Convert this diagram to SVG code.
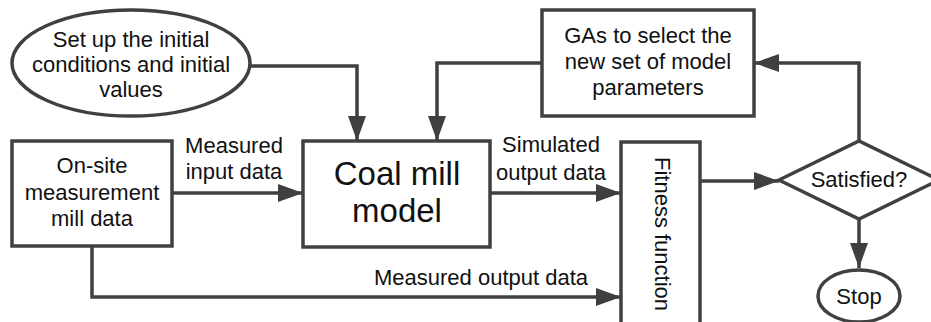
<svg xmlns="http://www.w3.org/2000/svg" width="931" height="322" viewBox="0 0 931 322">
<defs>
<style>
.s{fill:#fff;stroke:#404040;stroke-width:3.5}
.c{fill:none;stroke:#404040;stroke-width:3.5}
text{font-family:"Liberation Sans",Arial,sans-serif;font-size:22px;fill:#111;text-anchor:middle}
.big{font-size:33px}
</style>
<marker id="ah" viewBox="0 0 25 18" refX="25" refY="9" markerWidth="25" markerHeight="18" markerUnits="userSpaceOnUse" orient="auto">
<path d="M0,0 L25,9 L0,18 Z" fill="#404040"/>
</marker>
</defs>
<g id="connectors">
<path class="c" d="M251,66 H357 V141" marker-end="url(#ah)"/>
<path class="c" d="M542,63 H437 V141" marker-end="url(#ah)"/>
<path class="c" d="M172,193 H303" marker-end="url(#ah)"/>
<path class="c" d="M490,193 H621" marker-end="url(#ah)"/>
<path class="c" d="M92,246 V297 H621" marker-end="url(#ah)"/>
<path class="c" d="M700,181 H779" marker-end="url(#ah)"/>
<path class="c" d="M859,141 V63 H754" marker-end="url(#ah)"/>
<path class="c" d="M859,219 V268" marker-end="url(#ah)"/>
<text x="234" y="153">Measured</text>
<text x="234" y="179">input data</text>
<text x="551" y="152">Simulated</text>
<text x="551" y="180">output data</text>
<text x="481" y="285">Measured output data</text>
</g>
<g id="init">
<ellipse class="s" cx="131" cy="63" rx="119" ry="53"/>
<text x="131" y="47">Set up the initial</text>
<text x="131" y="72">conditions and initial</text>
<text x="131" y="97">values</text>
</g>
<g id="onsite">
<rect class="s" x="12" y="141" width="160" height="105"/>
<text x="92" y="173">On-site</text>
<text x="92" y="200">measurement</text>
<text x="92" y="226">mill data</text>
</g>
<g id="coalmill">
<rect class="s" x="303" y="141" width="187" height="106"/>
<text class="big" x="397" y="185">Coal mill</text>
<text class="big" x="397" y="222">model</text>
</g>
<g id="gas">
<rect class="s" x="542" y="10" width="212" height="106"/>
<text x="648" y="43">GAs to select the</text>
<text x="648" y="69">new set of model</text>
<text x="648" y="95">parameters</text>
</g>
<g id="fitness">
<rect class="s" x="621" y="142" width="79" height="185"/>
<text x="0" y="0" transform="translate(655,234) rotate(90)">Fitness function</text>
</g>
<g id="satisfied">
<polygon class="s" points="779,180 859,141 939,180 859,219"/>
<text x="859" y="187">Satisfied?</text>
</g>
<g id="stop">
<ellipse class="s" cx="859" cy="296" rx="41" ry="26"/>
<text x="859" y="304">Stop</text>
</g>
</svg>
